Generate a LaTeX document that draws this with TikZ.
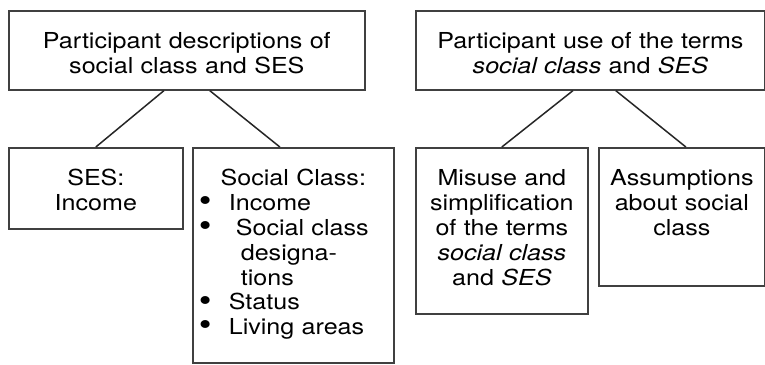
\documentclass[tikz,border=0pt]{standalone}
\usepackage{fontspec}
\setmainfont[FakeStretch=1.14]{TeX Gyre Heros}

% one line of the bulleted list, and a wrapped continuation line
\newcommand{\bulletline}[2][18pt]{\makebox[\linewidth][l]{\makebox[#1][l]{\hspace*{3pt}\raisebox{-0.6pt}{\scalebox{1.45}{\textbullet}}}#2}}
\newcommand{\wrapline}[1]{\makebox[\linewidth][l]{\hspace*{24pt}#1}}

\begin{document}
\begin{tikzpicture}[x=0.5pt, y=-0.5pt,
    box/.style={draw=black!75, line width=0.85pt, inner sep=0pt, align=center,
      anchor=north west, text height=19pt, font=\fontsize{11}{12.4}\selectfont},
    link/.style={draw=black!85, line width=0.75pt}]
    \useasboundingbox (0,0) rectangle (765,364);

    % left tree
    \node[box, text width=178pt, text depth=20.5pt] (desc) at (8,10)
      {Participant descriptions of\\ social class and SES};
    \node[box, text width=87pt, text depth=21.5pt] (ses) at (8,147)
      {SES:\\ Income};
    \node[box, text width=100.5pt, text depth=88.5pt] (social) at (192,147)
      {Social Class:\\
       \bulletline{Income}\\
       \bulletline[21.5pt]{Social class}\\
       \wrapline{designa-}\\
       \wrapline{tions}\\
       \bulletline{Status}\\
       \bulletline{Living areas}};

    % right tree
    \node[box, text width=174.5pt, text depth=20.5pt] (use) at (415,10)
      {Participant use of the terms\\ \textit{social class} and \textit{SES}};
    \node[box, text width=86pt, text depth=64pt] (misuse) at (415,147)
      {Misuse and\\ simplification\\ of the terms\\ \textit{social class}\\ and \textit{SES}};
    \node[box, text width=83pt, text depth=50pt] (assume) at (598,147)
      {Assumptions\\ about social\\ class};

    \draw[link] ([xshift=-11.5pt]desc.south) -- (ses.north);
    \draw[link] ([xshift=11.5pt]desc.south) -- ([xshift=-6.75pt]social.north);
    \draw[link] ([xshift=-8.75pt]use.south) -- (misuse.north);
    \draw[link] ([xshift=12.75pt]use.south) -- ([xshift=2pt]assume.north);
\end{tikzpicture}
\end{document}
